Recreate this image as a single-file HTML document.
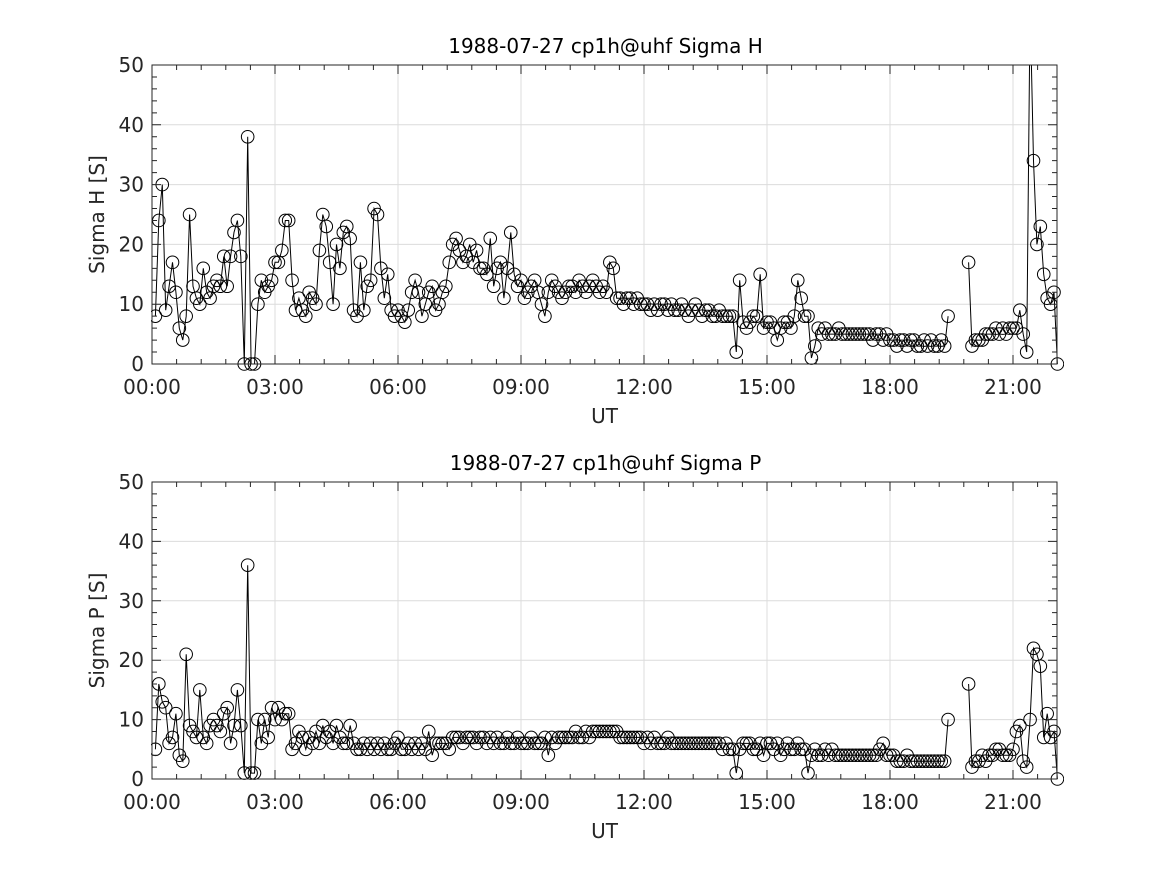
<!DOCTYPE html>
<html><head><meta charset="utf-8"><style>
body{margin:0;background:#fff;}
svg{display:block;font-family:"DejaVu Sans","Liberation Sans",sans-serif;}
</style></head><body>
<svg id="fig" width="1167" height="875" viewBox="0 0 1167 875"></svg>
<script>
const xTickLabels=["00:00","03:00","06:00","09:00","12:00","15:00","18:00","21:00"];
const yTickLabels=["0","10","20","30","40","50"];
const startHour=5/60;
const stepHour=5/60;
const sigmaH=[
8,24,30,9,13,17,12,6,4,8,25,13,
11,10,16,12,11,13,14,13,18,13,18,22,
24,18,0,38,0,0,10,14,12,13,14,17,
17,19,24,24,14,9,11,9,8,12,11,10,
19,25,23,17,10,20,16,22,23,21,9,8,
17,9,13,14,26,25,16,11,15,9,8,9,
8,7,9,12,14,12,8,10,12,13,9,10,
12,13,17,20,21,19,17,18,20,17,19,16,
16,15,21,13,16,17,11,16,22,15,13,14,
11,12,13,14,12,10,8,12,14,13,12,11,
12,13,13,12,14,13,12,13,14,13,12,13,
12,17,16,11,11,10,11,11,10,11,10,10,
10,9,10,9,10,10,9,10,9,9,10,9,
8,9,10,9,8,9,9,8,8,9,8,8,
8,8,2,14,7,6,7,8,8,15,6,7,
7,6,4,6,7,7,6,8,14,11,8,8,
1,3,6,5,6,5,5,5,6,5,5,5,
5,5,5,5,5,5,4,5,5,4,5,4,
4,3,4,4,3,4,4,3,3,4,3,4,
3,3,4,3,8,null,null,null,null,null,17,3,
4,4,4,5,5,5,6,5,6,5,6,6,
6,9,5,2,60,34,20,23,15,11,10,12,
0];
const sigmaP=[
5,16,13,12,6,7,11,4,3,21,9,8,
7,15,7,6,9,10,9,8,11,12,6,9,
15,9,1,36,1,1,10,6,10,7,12,10,
12,10,11,11,5,6,8,7,5,7,6,8,
6,9,7,8,6,9,7,6,6,9,6,5,
5,6,5,6,5,6,5,6,5,5,6,7,
5,5,6,5,6,5,6,5,8,4,6,6,
6,6,5,7,7,7,6,7,7,7,6,7,
7,6,7,6,7,6,6,7,6,6,7,6,
6,6,7,6,6,6,7,4,7,6,7,7,
7,7,7,8,7,7,8,7,8,8,8,8,
8,8,8,8,7,7,7,7,7,7,7,6,
7,6,7,6,6,6,7,6,6,6,6,6,
6,6,6,6,6,6,6,6,6,6,5,6,
5,5,1,5,6,6,6,5,5,6,4,6,
6,5,6,4,5,6,5,5,6,5,5,1,
4,5,4,4,5,4,5,4,4,4,4,4,
4,4,4,4,4,4,4,4,5,6,4,4,
4,3,3,3,4,3,3,3,3,3,3,3,
3,3,3,3,10,null,null,null,null,null,16,2,
3,3,4,3,4,4,5,5,4,4,4,5,
8,9,3,2,10,22,21,19,7,11,7,8,
0];

const NS="http://www.w3.org/2000/svg";
const svg=document.getElementById('fig');
function mk(tag,attrs,parent){const e=document.createElementNS(NS,tag);for(const k in attrs)e.setAttribute(k,attrs[k]);(parent||svg).appendChild(e);return e;}
const X0=152,X1=1057,XMAX=(1057-152)/41;
function xs(h){return X0+h*(X1-X0)/XMAX;}

function panel(key,top,bottom,title,ylabel,vals){
  const g=mk('g',{});
  
  
  const ys=v=>bottom-v*(bottom-top)/50;
  mk('rect',{x:X0,y:top,width:X1-X0,height:bottom-top,fill:'#fff'},g);
  for(let i=0;i<xTickLabels.length;i++){const x=xs(i*3);
    const l=mk('line',{x1:x,x2:x,y1:top,y2:bottom,stroke:'#dcdcdc','stroke-width':1},g);
    }
  for(let i=0;i<yTickLabels.length;i++){const y=ys(+yTickLabels[i]);
    const l=mk('line',{x1:X0,x2:X1,y1:y,y2:y,stroke:'#dcdcdc','stroke-width':1},g);
    }
  const cid='clip-'+key;
  const cp=mk('clipPath',{id:cid},g);mk('rect',{x:X0-1,y:top,width:X1-X0+8,height:bottom-top+8},cp);
  const sg=mk('g',{'clip-path':'url(#'+cid+')'},g);
  
  let d='',pen=false;
  vals.forEach((v,i)=>{if(v===null){pen=false;return;}const x=xs(startHour+i*stepHour),y=ys(v);d+=(pen?'L':'M')+x.toFixed(1)+' '+y.toFixed(1);pen=true;});
  const p=mk('path',{d:d,fill:'none',stroke:'#000','stroke-width':1},sg);
  
  vals.forEach((v,i)=>{if(v===null)return;const c=mk('circle',{cx:xs(startHour+i*stepHour),cy:ys(v),r:6.3,fill:'none',stroke:'#000','stroke-width':1},sg);
    });
  mk('rect',{x:X0,y:top,width:X1-X0,height:bottom-top,fill:'none',stroke:'#262626','stroke-width':1},g);
  for(let h=0;h<=XMAX+1e-6;h+=0.6){const x=xs(h);const maj=Math.abs(h/3-Math.round(h/3))<1e-6;const L=maj?9:5;
    mk('path',{d:`M${x} ${bottom}v${-L}M${x} ${top}v${L}`,stroke:'#262626','stroke-width':1},g);}
  for(let v=0;v<=50;v+=2){const y=ys(v);const L=v%10===0?9:5;
    mk('path',{d:`M${X0} ${y}h${L}M${X1} ${y}h${-L}`,stroke:'#262626','stroke-width':1},g);}
  xTickLabels.forEach((t,i)=>{const e=mk('text',{x:xs(i*3),y:bottom+30,'text-anchor':'middle','font-size':20,fill:'#262626'},g);e.textContent=t;
    });
  yTickLabels.forEach(t=>{const e=mk('text',{x:X0-8,y:ys(+t)+7,'text-anchor':'end','font-size':20,fill:'#262626'},g);e.textContent=t;
    });
  const xl=mk('text',{x:(X0+X1)/2,y:bottom+59,'text-anchor':'middle','font-size':20,fill:'#262626'},g);xl.textContent='UT';
  
  const yl=mk('text',{x:0,y:0,'text-anchor':'middle','font-size':20,fill:'#262626',transform:`translate(104 ${(top+bottom)/2}) rotate(-90)`},g);yl.textContent=ylabel;
  
  const ti=mk('text',{x:(X0+X1)/2+1,y:top-12,'text-anchor':'middle','font-size':20,fill:'#000'},g);ti.textContent=title;
  
}
panel('sigma-h',65,364,'1988-07-27  cp1h@uhf Sigma H','Sigma H [S]',sigmaH);
panel('sigma-p',482,779,'1988-07-27  cp1h@uhf Sigma P','Sigma P [S]',sigmaP);
</script>
</body></html>
